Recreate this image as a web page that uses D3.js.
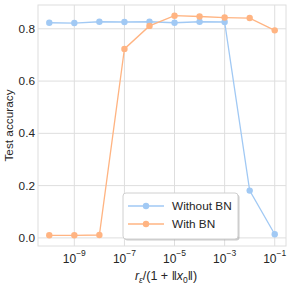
<!DOCTYPE html>
<html>
<head>
<meta charset="utf-8">
<script src="https://cdn.jsdelivr.net/npm/d3@7"></script>
<style>
  body { margin: 0; background: #fff; }
  text { font-family: "Liberation Sans", Arial, sans-serif; fill: #262626; }
</style>
</head>
<body>
<svg width="292" height="286"></svg>
<script>
// exponents of r_eps / (1 + ||x0||)
var exponents = [-10, -9, -8, -7, -6, -5, -4, -3, -2, -1];
var withoutBN = [0.823, 0.822, 0.827, 0.826, 0.827, 0.823, 0.827, 0.826, 0.181, 0.014];
var withBN = [0.010, 0.010, 0.011, 0.723, 0.811, 0.850, 0.847, 0.843, 0.841, 0.794];
var xTicks = [-9, -7, -5, -3, -1];
var yTicks = [0.0, 0.2, 0.4, 0.6, 0.8];
var seriesNames = ['Without BN', 'With BN'];
var colors = ['#a1c9f4', '#ffb482'];

var svg = d3.select('svg');
var padding = {t: 5, r: 6, b: 40, l: 38};
var chartWidth = 292 - padding.l - padding.r;
var chartHeight = 286 - padding.t - padding.b;

var x = d3.scaleLinear().domain([-10.45, -0.55]).range([0, chartWidth]);
var y = d3.scaleLinear().domain([-0.031, 0.891]).range([chartHeight, 0]);

var chartG = svg.append('g')
    .attr('transform', 'translate(' + [padding.l, padding.t] + ')');

// grid
chartG.selectAll('.vgrid').data(xTicks).enter().append('line')
    .attr('x1', function(d) { return x(d); })
    .attr('x2', function(d) { return x(d); })
    .attr('y1', 0).attr('y2', chartHeight)
    .attr('stroke', '#dedede').attr('stroke-width', 1);
chartG.selectAll('.hgrid').data(yTicks).enter().append('line')
    .attr('y1', function(d) { return y(d); })
    .attr('y2', function(d) { return y(d); })
    .attr('x1', 0).attr('x2', chartWidth)
    .attr('stroke', '#dedede').attr('stroke-width', 1);
chartG.append('rect')
    .attr('width', chartWidth).attr('height', chartHeight)
    .attr('fill', 'none').attr('stroke', '#dedede').attr('stroke-width', 1);

// x tick labels: 10^k
var xLab = chartG.selectAll('.xlab').data(xTicks).enter().append('text')
    .attr('x', function(d) { return x(d); })
    .attr('y', chartHeight + 17)
    .attr('text-anchor', 'middle')
    .style('font-size', '12px');
xLab.append('tspan').text('10');
xLab.append('tspan').attr('dy', -7).style('font-size', '8.5px')
    .text(function(d) { return '\u2212' + Math.abs(d); });

// y tick labels
chartG.selectAll('.ylab').data(yTicks).enter().append('text')
    .attr('x', -3)
    .attr('y', function(d) { return y(d); })
    .attr('dy', '0.35em')
    .attr('text-anchor', 'end')
    .style('font-size', '11.8px')
    .text(function(d) { return d.toFixed(1); });

// axis titles
svg.append('text')
    .attr('transform', 'translate(13,' + (padding.t + chartHeight / 2) + ') rotate(-90)')
    .attr('text-anchor', 'middle')
    .style('font-size', '11.8px')
    .text('Test accuracy');

var xt = svg.append('text')
    .attr('x', padding.l + chartWidth / 2 + 4)
    .attr('y', 280)
    .attr('text-anchor', 'middle')
    .style('font-size', '12.5px');
xt.append('tspan').style('font-style', 'italic').text('r');
xt.append('tspan').attr('dy', 2.5).style('font-size', '8.5px').style('font-style', 'italic').text('\u03b5');
xt.append('tspan').attr('dy', -2.5).text('/(1 + \u2016');
xt.append('tspan').style('font-style', 'italic').text('x');
xt.append('tspan').attr('dy', 2.5).style('font-size', '8.5px').text('0');
xt.append('tspan').attr('dy', -2.5).text('\u2016)');

// lines
var line = d3.line()
    .x(function(d, i) { return x(exponents[i]); })
    .y(function(d) { return y(d); });

[withoutBN, withBN].forEach(function(vals, k) {
    chartG.append('path')
        .datum(vals)
        .attr('d', line)
        .attr('fill', 'none')
        .attr('stroke', colors[k])
        .attr('stroke-width', 1.3);
    chartG.selectAll('.pt' + k).data(vals).enter().append('circle')
        .attr('cx', function(d, i) { return x(exponents[i]); })
        .attr('cy', function(d) { return y(d); })
        .attr('r', 3.2)
        .attr('fill', colors[k]);
});

// legend
var lg = svg.append('g').attr('transform', 'translate(123,193)');
lg.append('rect')
    .attr('x', 1.5).attr('y', 1.5)
    .attr('width', 115).attr('height', 46).attr('rx', 3)
    .attr('fill', '#999').attr('opacity', 0.5);
lg.append('rect')
    .attr('width', 115).attr('height', 46).attr('rx', 3)
    .attr('fill', '#fff').attr('stroke', '#d0d0d0').attr('stroke-width', 1);
seriesNames.forEach(function(name, k) {
    var yy = 13 + k * 18;
    lg.append('line')
        .attr('x1', 5).attr('x2', 41).attr('y1', yy).attr('y2', yy)
        .attr('stroke', colors[k]).attr('stroke-width', 1.3);
    lg.append('circle').attr('cx', 23).attr('cy', yy).attr('r', 3.2).attr('fill', colors[k]);
    lg.append('text').attr('x', 49).attr('y', yy).attr('dy', '0.35em')
        .style('font-size', '11.8px').text(name);
});
</script>
</body>
</html>
